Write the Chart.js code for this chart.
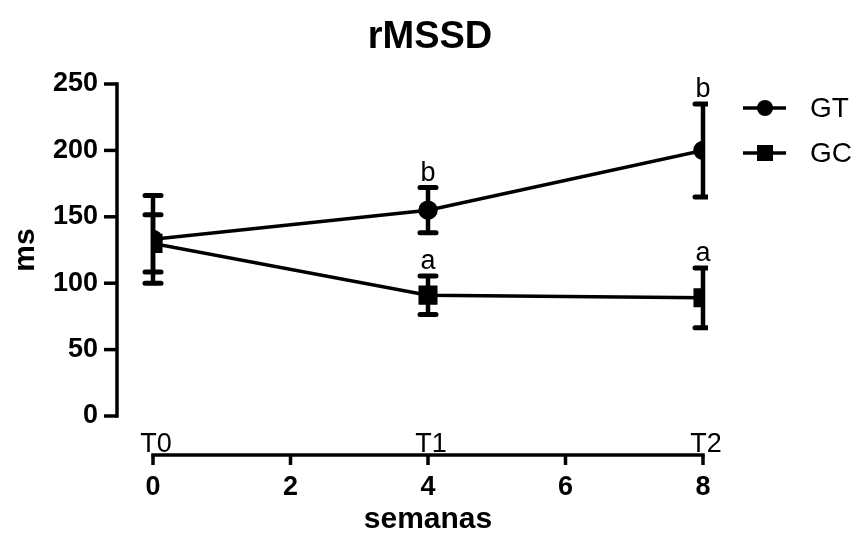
<!DOCTYPE html>
<html>
<head>
<meta charset="utf-8">
<script src="https://cdn.jsdelivr.net/npm/chart.js@4.4.1/dist/chart.umd.min.js"></script>
<style>
  html, body { margin: 0; padding: 0; background: #fff; }
  #wrap { width: 859px; height: 536px; }
</style>
</head>
<body>
<div id="wrap"><canvas id="rmssdChart"></canvas></div>
<script>
const weeks = [0, 4, 8];
const timeLabels = ['T0', 'T1', 'T2'];
const gtMean = [133, 155, 200];
const gtErr = [33, 17, 35];
const gcMean = [130, 91, 89];
const gcErr = [21.5, 14.5, 22.5];
const gtMarks = ['', 'b', 'b'];
const gcMarks = ['', 'a', 'a'];
const yTicks = [0, 50, 100, 150, 200, 250];
const xTicks = [0, 2, 4, 6, 8];
const chartTitle = 'rMSSD';

const FONT = '"Liberation Sans", Arial, sans-serif';

function toPoints(vals) {
  return weeks.map((w, i) => ({ x: w, y: vals[i] }));
}

// offset axes, error bars, letters, title and legend around the datasets
const prismDecor = {
  id: 'prismDecor',
  beforeDatasetsDraw(chart) {
    const { ctx, chartArea } = chart;
    const xs = chart.scales.x;
    const ys = chart.scales.y;
    ctx.save();
    ctx.beginPath();
    ctx.rect(0, 0, chartArea.right + 5, chart.height);
    ctx.clip();
    ctx.strokeStyle = '#000';
    chart.data.datasets.forEach(ds => {
      ds.errors.forEach((e, i) => {
        const px = xs.getPixelForValue(weeks[i]);
        const top = ys.getPixelForValue(ds.data[i].y + e);
        const bot = ys.getPixelForValue(ds.data[i].y - e);
        ctx.lineCap = 'butt';
        ctx.lineWidth = 4.5;
        ctx.beginPath();
        ctx.moveTo(px, top);
        ctx.lineTo(px, bot);
        ctx.stroke();
        ctx.lineCap = 'round';
        ctx.lineWidth = 5;
        [top, bot].forEach(cy => {
          ctx.beginPath();
          ctx.moveTo(px - 8, cy);
          ctx.lineTo(px + 8, cy);
          ctx.stroke();
        });
      });
    });
    ctx.restore();
  },
  afterDatasetsDraw(chart) {
    const { ctx, chartArea } = chart;
    const xs = chart.scales.x;
    const ys = chart.scales.y;
    ctx.save();
    ctx.strokeStyle = '#000';
    ctx.fillStyle = '#000';
    ctx.lineCap = 'butt';
    ctx.lineWidth = 3.5;

    // title centred over the plot
    ctx.font = 'bold 38px ' + FONT;
    ctx.textAlign = 'center';
    ctx.textBaseline = 'middle';
    ctx.fillText(chartTitle, (chartArea.left + chartArea.right) / 2 + 2, 38);

    // y axis, pulled left of the plot
    const ax = chartArea.left - 36;
    ctx.beginPath();
    ctx.moveTo(ax, ys.getPixelForValue(0) + 1.75);
    ctx.lineTo(ax, ys.getPixelForValue(250) - 1.75);
    ctx.stroke();
    yTicks.forEach(v => {
      const py = ys.getPixelForValue(v);
      ctx.beginPath();
      ctx.moveTo(ax, py);
      ctx.lineTo(ax - 13, py);
      ctx.stroke();
    });

    // x axis, pushed below the plot
    const ay = chartArea.bottom + 39;
    ctx.beginPath();
    ctx.moveTo(xs.getPixelForValue(0) - 1.75, ay);
    ctx.lineTo(xs.getPixelForValue(8) + 1.75, ay);
    ctx.stroke();
    xTicks.forEach(v => {
      const px = xs.getPixelForValue(v);
      ctx.beginPath();
      ctx.moveTo(px, ay);
      ctx.lineTo(px, ay + 10);
      ctx.stroke();
    });

    ctx.font = '27px ' + FONT;
    ctx.textBaseline = 'alphabetic';
    timeLabels.forEach((t, i) => {
      ctx.fillText(t, xs.getPixelForValue(weeks[i]) + 3, ay - 3);
    });

    // significance letters above the upper caps
    ctx.font = '27px ' + FONT;
    chart.data.datasets.forEach(ds => {
      ds.marks.forEach((m, i) => {
        if (!m) return;
        const px = xs.getPixelForValue(weeks[i]);
        const top = ys.getPixelForValue(ds.data[i].y + ds.errors[i]);
        ctx.fillText(m, px, top - 7);
      });
    });

    // legend
    const lx = chartArea.right + 40;
    const rows = [108, 153];
    ctx.textAlign = 'left';
    ctx.textBaseline = 'middle';
    ctx.font = '28px ' + FONT;
    chart.data.datasets.forEach((ds, i) => {
      const ly = rows[i];
      ctx.lineWidth = 3.5;
      ctx.beginPath();
      ctx.moveTo(lx, ly);
      ctx.lineTo(lx + 43, ly);
      ctx.stroke();
      if (ds.pointStyle === 'rect') {
        ctx.fillRect(lx + 14, ly - 8, 16, 16);
      } else {
        ctx.beginPath();
        ctx.arc(lx + 22, ly, 8, 0, Math.PI * 2);
        ctx.fill();
      }
      ctx.fillText(ds.label, lx + 67, ly + 1);
    });
    ctx.restore();
  }
};

new Chart(document.getElementById('rmssdChart'), {
  type: 'line',
  data: {
    datasets: [
      {
        label: 'GT',
        data: toPoints(gtMean),
        errors: gtErr,
        marks: gtMarks,
        borderColor: '#000',
        backgroundColor: '#000',
        borderWidth: 3.5,
        pointStyle: 'circle',
        pointRadius: 8,
        tension: 0
      },
      {
        label: 'GC',
        data: toPoints(gcMean),
        errors: gcErr,
        marks: gcMarks,
        borderColor: '#000',
        backgroundColor: '#000',
        borderWidth: 3.5,
        pointStyle: 'rect',
        pointRadius: 11,
        tension: 0
      }
    ]
  },
  options: {
    responsive: true,
    maintainAspectRatio: false,
    animation: false,
    devicePixelRatio: 1,
    layout: { padding: { top: 84, right: 156, bottom: 0, left: 0 } },
    plugins: {
      legend: { display: false },
      tooltip: { enabled: false }
    },
    scales: {
      x: {
        type: 'linear',
        min: 0,
        max: 8,
        afterBuildTicks: s => { s.ticks = xTicks.map(v => ({ value: v })); },
        afterFit: s => { s.height = 120; },
        grid: { display: false, drawTicks: false },
        border: { display: false },
        ticks: {
          color: '#000',
          padding: 55,
          font: { family: FONT, size: 27, weight: 'bold' }
        },
        title: {
          display: true,
          text: 'semanas',
          color: '#000',
          font: { family: FONT, size: 30, weight: 'bold' },
          padding: { top: 0, bottom: -2 }
        }
      },
      y: {
        min: 0,
        max: 250,
        afterBuildTicks: s => { s.ticks = yTicks.map(v => ({ value: v })); },
        afterFit: s => { s.width = 153; },
        grid: { display: false, drawTicks: false },
        border: { display: false },
        ticks: {
          color: '#000',
          padding: 55,
          font: { family: FONT, size: 27, weight: 'bold' }
        },
        title: {
          display: true,
          text: 'ms',
          color: '#000',
          font: { family: FONT, size: 30, weight: 'bold' },
          padding: { top: 8, bottom: 0 }
        }
      }
    }
  },
  plugins: [prismDecor]
});
</script>
</body>
</html>
